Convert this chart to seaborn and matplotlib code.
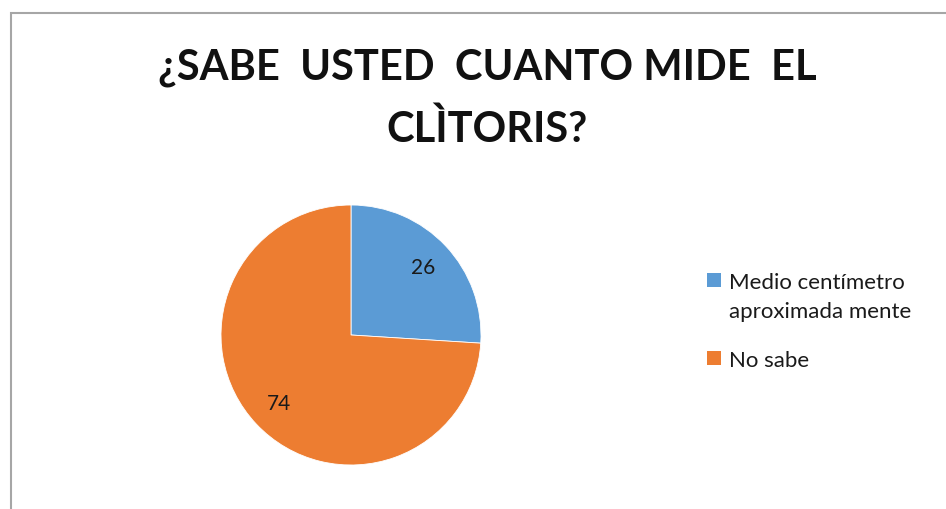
import matplotlib
matplotlib.use("Agg")
import matplotlib.pyplot as plt
from matplotlib.patches import Rectangle
import seaborn as sns

# =========================
# DATA
# =========================
categories = ["Medio centímetro\naproximada mente", "No sabe"]
values = [26, 74]
title = "¿SABE  USTED  CUANTO MIDE  EL\nCLÌTORIS?"

sns.set_style("white")
plt.rcParams['font.family'] = ['Lato', 'DejaVu Sans']

colors = ["#5B9BD5", "#ED7D31"]

W, H = 946, 510
fig = plt.figure(figsize=(W / 100, H / 100), dpi=100)

# chart area border (cut at right/bottom like the screenshot)
fig.patches.append(Rectangle((10.5 / W, -0.1), 1.2, 1.1 - 13.5 / H,
                             transform=fig.transFigure, fill=False,
                             edgecolor="#A6A6A6", linewidth=1.5))

ax = fig.add_axes([221 / W, 44 / H, 260 / W, 260 / H])
wedges, texts, autotexts = ax.pie(
    values, colors=colors, startangle=90, counterclock=False,
    radius=1, autopct=lambda p: f"{p * sum(values) / 100:.0f}",
    pctdistance=0.76, wedgeprops=dict(linewidth=0.6, edgecolor="white"),
    textprops=dict(fontsize=15, color="#1a1a1a"))
ax.set_xlim(-1, 1)
ax.set_ylim(-1, 1)
ax.set_aspect("equal")
ax.axis("off")

fig.text(487 / W, 1 - 99 / H, title, ha="center", va="center",
         fontsize=30, fontweight="bold", color="#111111", linespacing=1.7)

# legend: square aligned with the first line of each label
baselines = [289, 367]
for cat, col, base in zip(categories, colors, baselines):
    fig.patches.append(Rectangle((707 / W, 1 - (base - 1) / H), 14 / W, 14 / H,
                                 transform=fig.transFigure, facecolor=col,
                                 edgecolor="none"))
    for i, line in enumerate(cat.split("\n")):
        fig.text(729 / W, 1 - (base + 29 * i) / H, line, ha="left",
                 va="baseline", fontsize=16, color="#1a1a1a")

plt.savefig("out.png", dpi=100)
plt.close()
